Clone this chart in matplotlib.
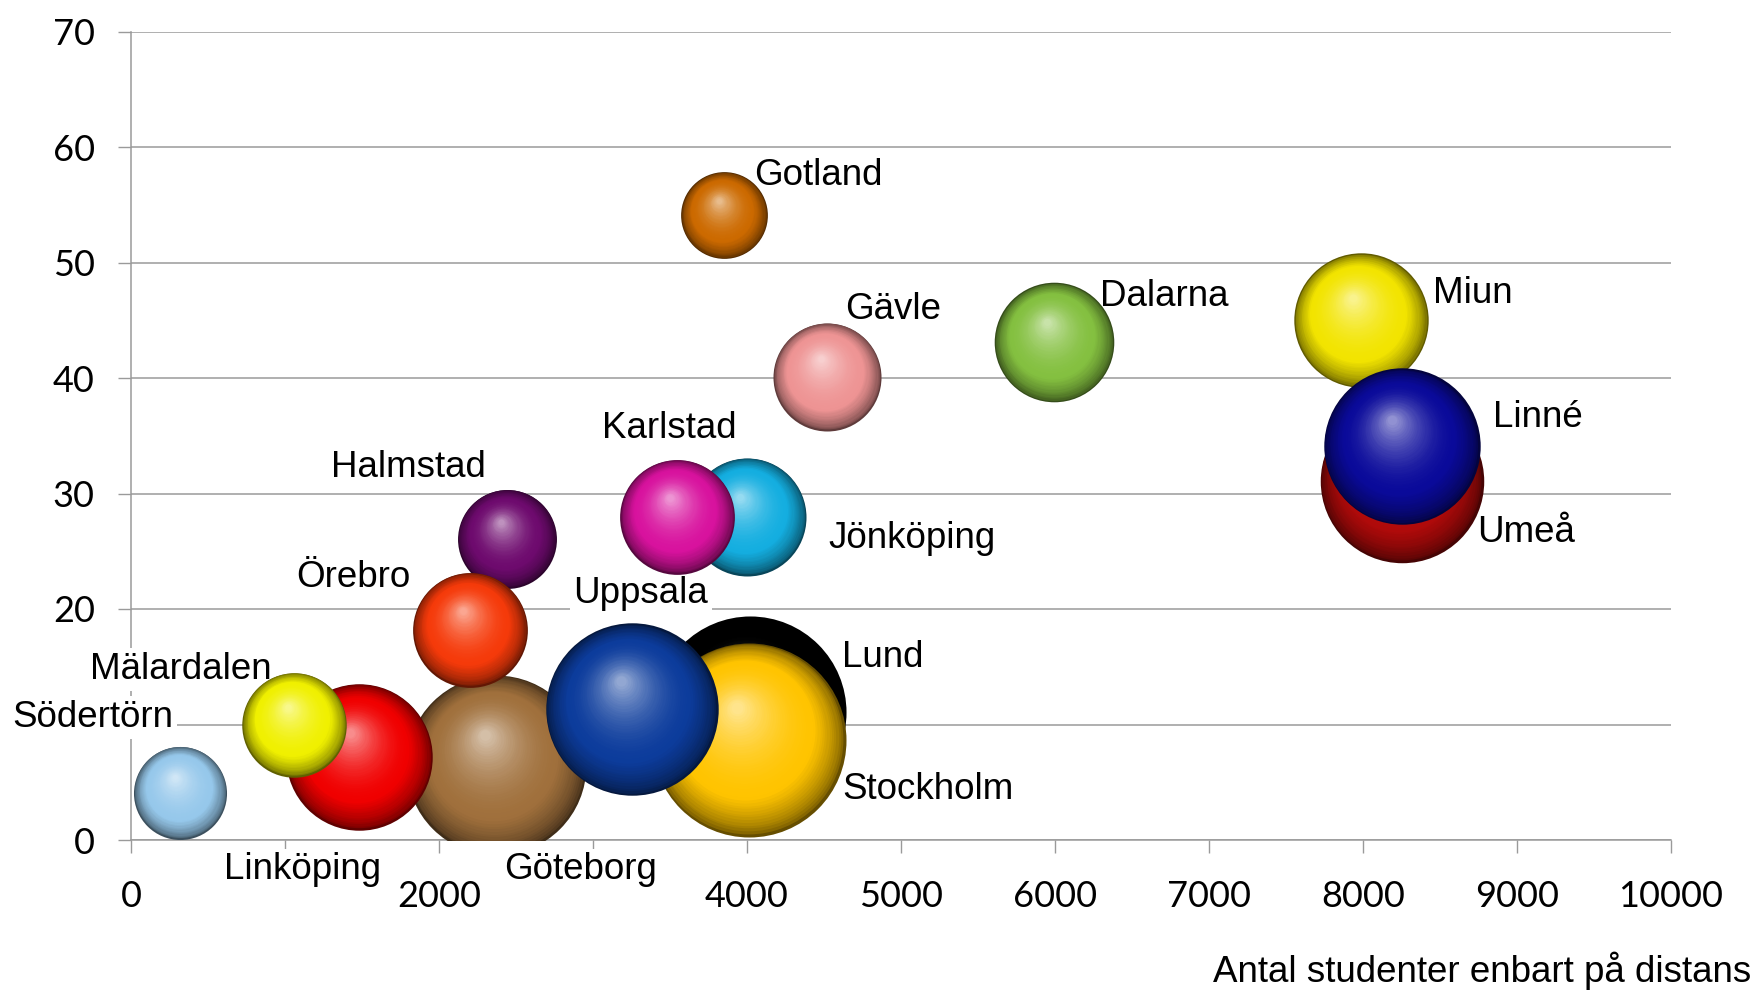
import matplotlib
matplotlib.use("Agg")
import numpy as np
import matplotlib.pyplot as plt
from matplotlib.colors import to_rgb
from matplotlib.transforms import offset_copy

# lärosäten i den ordning bubblorna ritas (bakifrån och fram)
larosaten = ["Lund", "Stockholm", "Göteborg", "Uppsala", "Linköping", "Mälardalen",
             "Södertörn", "Halmstad", "Örebro", "Jönköping", "Karlstad", "Gotland",
             "Gävle", "Dalarna", "Miun", "Umeå", "Linné"]
# antal studenter enbart på distans (x)
distans = [4020, 4010, 2370, 3250, 1480, 1060, 320, 2440, 2200, 4000, 3545, 3850,
           4520, 5995, 7985, 8250, 8250]
# y-värde
andel = [11.1, 8.7, 6.5, 11.3, 7.2, 10.0, 4.1, 26.1, 18.2, 28.0, 28.0, 54.1,
         40.1, 43.1, 45.0, 31.1, 34.1]
# bubbelstorlek (relativ)
storlek = [98, 100, 86, 79, 57, 29, 23, 26, 35, 37, 35, 20, 31, 38, 48, 71, 65]

farger = ["#000000", "#FFC400", "#A0703C", "#0C3C9C", "#F00000", "#F0F000",
          "#96C8EB", "#6E0A6E", "#F53A0A", "#14AEE0", "#D8129E", "#CC6A00",
          "#EE9494", "#84C040", "#F2E400", "#B00A0A", "#0A0A9A"]
# etiketternas förskjutning från bubblans mitt, i pixlar (dx, dy uppåt)
etikett_offset = [(92, 54), (94, -50), (8, -105), (-58, 116), (-135, -113), (-204, 55),
                  (-168, 75), (-176, 71), (-174, 52), (81, -22), (-75, 88), (30, 40),
                  (18, 67), (46, 46), (72, 27), (76, -52), (91, 29)]

x_ticks = list(range(0, 10001, 1000))
y_ticks = list(range(0, 71, 10))
# de här etiketterna döljs bakom namnrutorna i originalet
dolda_x = [1000, 3000]
dolda_y = [10]

tick_font = "Lato"
tick_size = 26
text_font = "Liberation Sans"
text_size = 26.5
grid_farg = "#9a9a9a"

fig = plt.figure(figsize=(17.58, 9.91), dpi=100)
ax = fig.add_axes([131 / 1758, 1 - 840 / 991, 1540 / 1758, 808.5 / 991])


def rita_bubbla(ax, x, y, radie, farg, z):
    bas = np.array(to_rgb(farg))
    mork = bas * 0.4
    ljus = bas + (1 - bas) * 0.55
    n = 45
    for i in range(n):
        t = i / (n - 1)
        if t < 0.3:
            c = mork + (bas - mork) * (t / 0.3) ** 0.6
        else:
            c = bas + (ljus - bas) * ((t - 0.3) / 0.7) ** 1.8
        r = radie * (1 - 0.94 * t)
        tr = offset_copy(ax.transData, fig=ax.figure, x=-0.12 * radie * t,
                         y=0.33 * radie * t, units="points")
        ax.scatter([x], [y], s=(2 * r) ** 2, color=[np.clip(c, 0, 1)],
                   transform=tr, linewidths=0, zorder=z)


max_radie = 97 * 0.72  # punkter
for i in range(len(larosaten)):
    radie = max_radie * np.sqrt(storlek[i] / max(storlek))
    rita_bubbla(ax, distans[i], andel[i], radie, farger[i], 4 + i * 0.01)
    dx, dy = etikett_offset[i]
    ax.annotate(larosaten[i], (distans[i], andel[i]), xytext=(dx * 0.72, dy * 0.72),
                textcoords="offset points", ha="left", va="center",
                fontsize=text_size, fontfamily=text_font, zorder=3,
                annotation_clip=False,
                bbox=dict(boxstyle="square,pad=0.1", fc="white", ec="none"))

ax.set_xlim(0, 10000)
ax.set_ylim(0, 70)
ax.set_xticks(x_ticks)
ax.set_xticklabels(["" if v in dolda_x else str(v) for v in x_ticks],
                   fontfamily=tick_font, fontsize=tick_size)
ax.set_yticks(y_ticks)
ax.set_yticklabels(["" if v in dolda_y else str(v) for v in y_ticks],
                   fontfamily=tick_font, fontsize=tick_size)
ax.tick_params(axis="y", length=9.5, width=1, color=grid_farg, pad=16.5)
ax.tick_params(axis="x", length=9, width=1, color=grid_farg, pad=20)
ax.grid(axis="y", color=grid_farg, linewidth=1.1)
for s in ["top", "right"]:
    ax.spines[s].set_visible(False)
for s in ["left", "bottom"]:
    ax.spines[s].set_color(grid_farg)
    ax.spines[s].set_linewidth(1.1)

fig.text(1751 / 1758, 1 - 971 / 991, "Antal studenter enbart på distans",
         ha="right", va="center", fontsize=text_size, fontfamily=text_font)

fig.savefig("out.png", dpi=100)
